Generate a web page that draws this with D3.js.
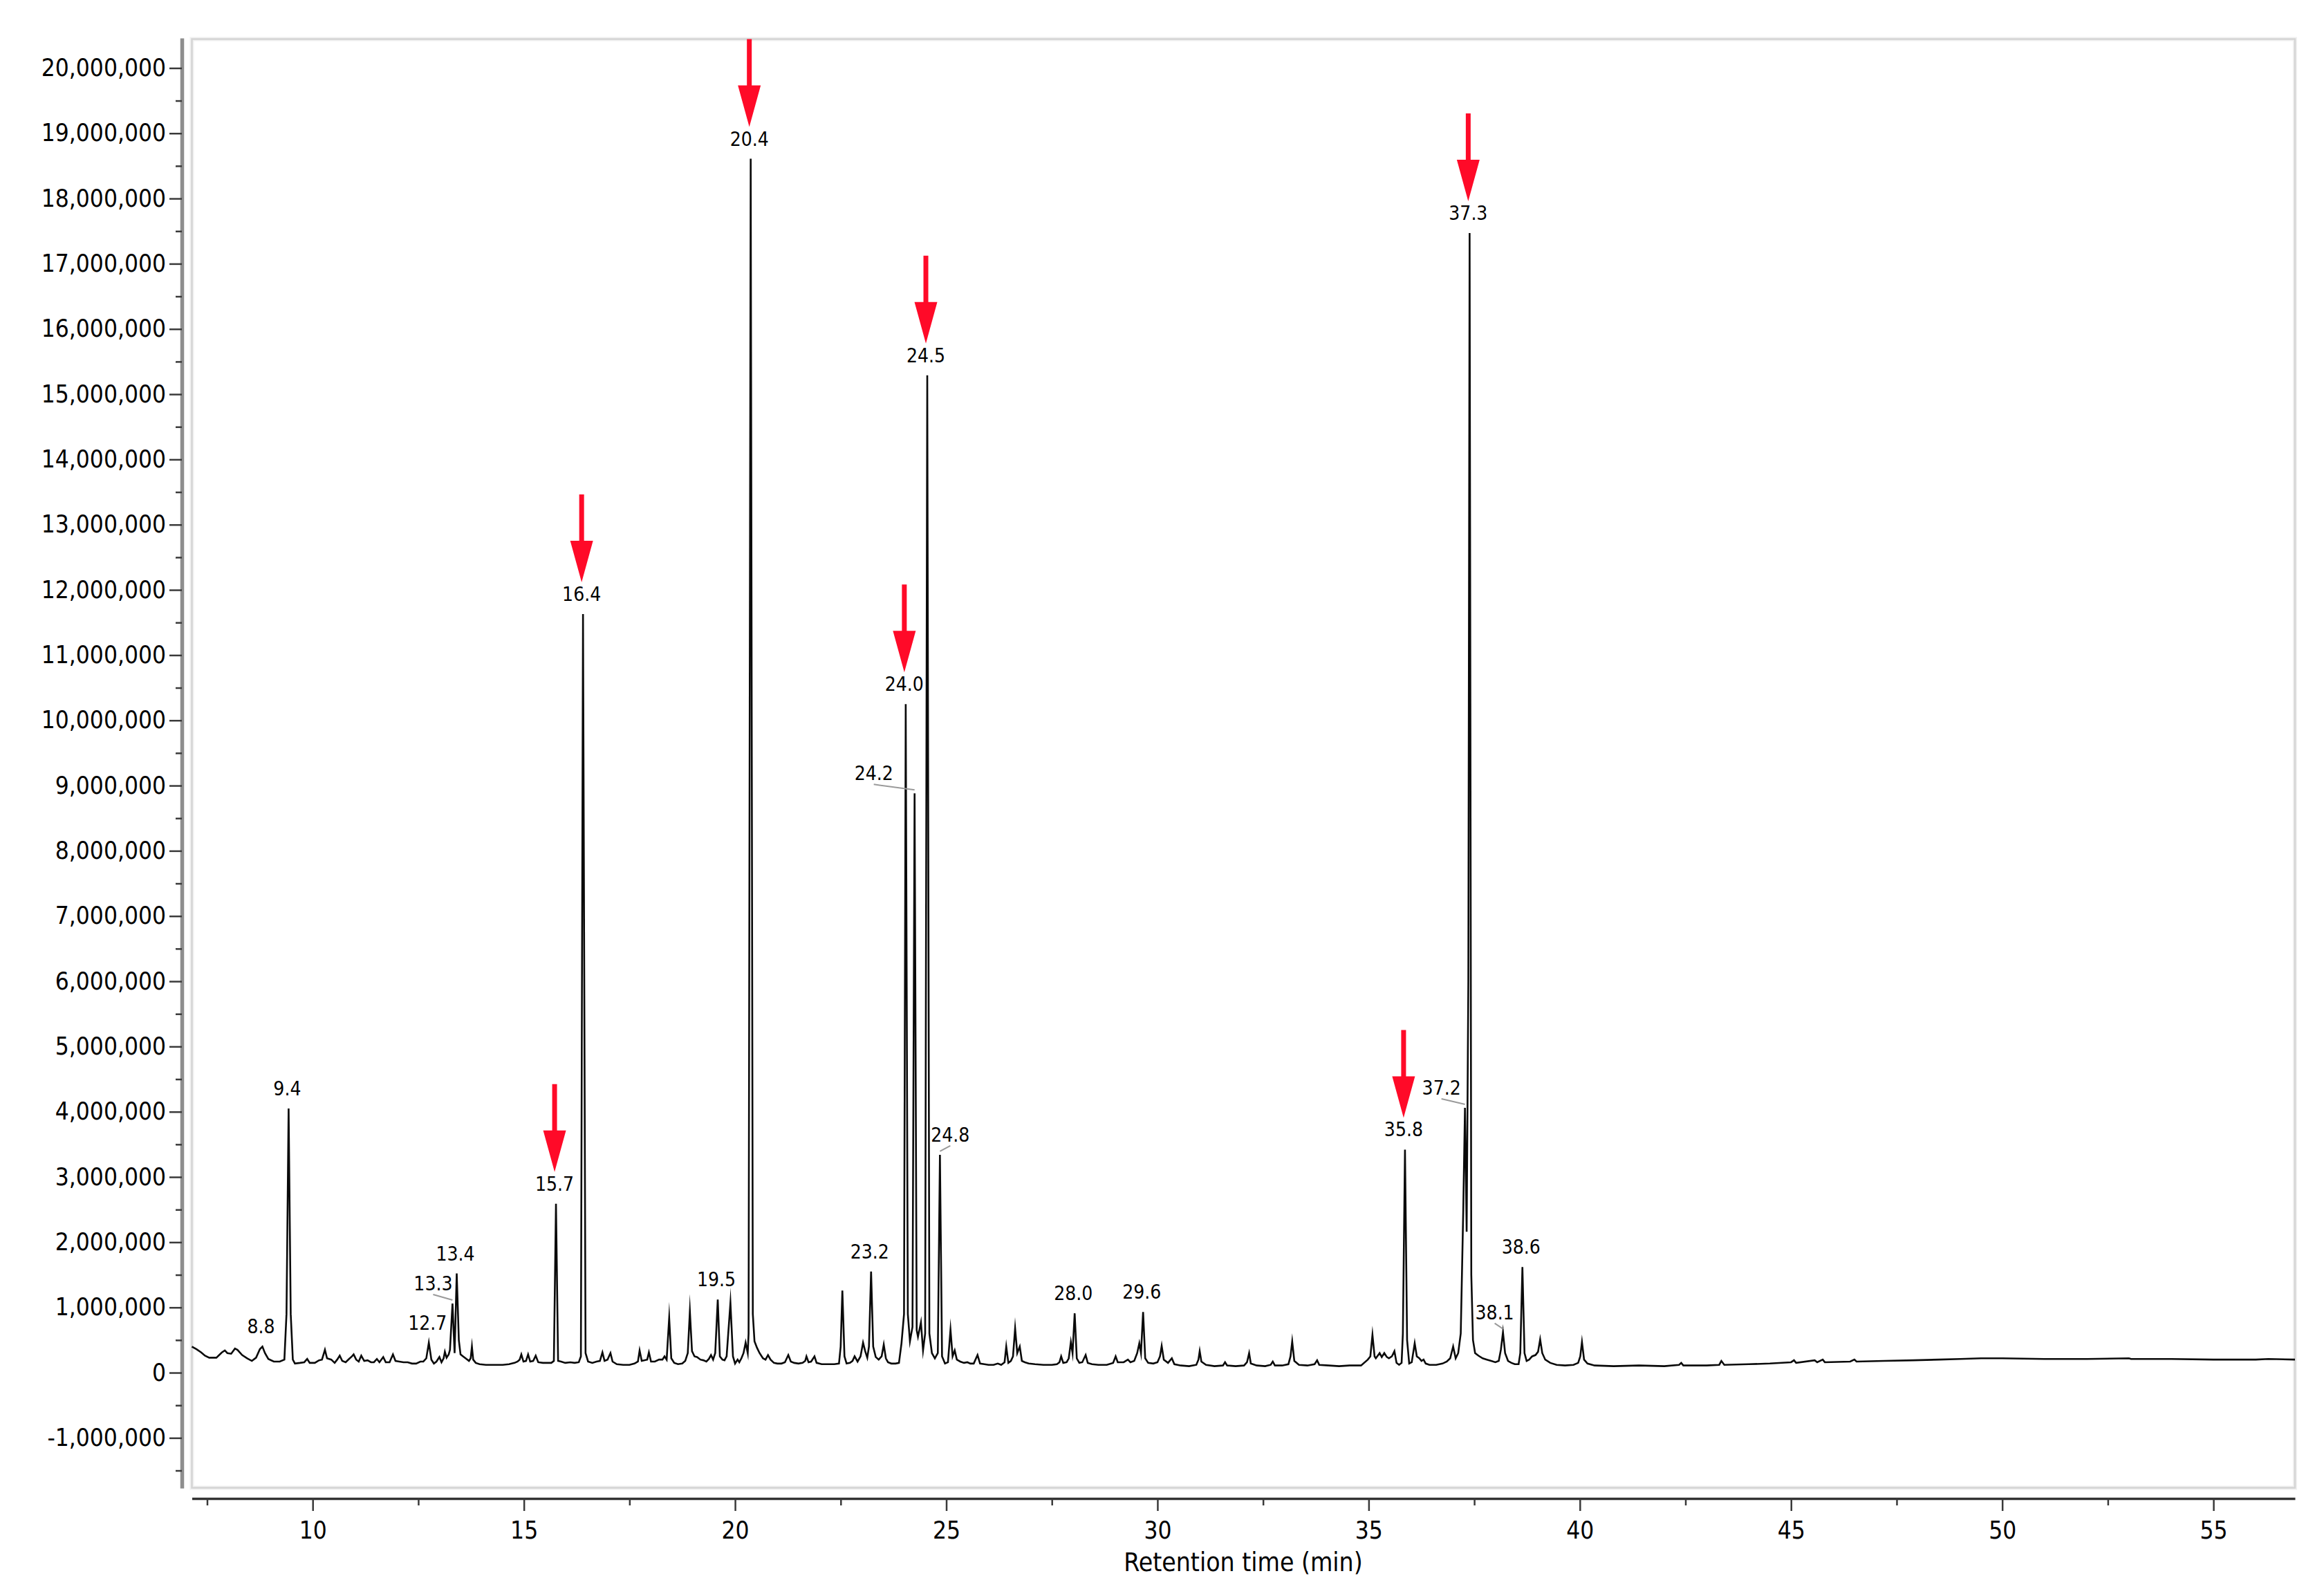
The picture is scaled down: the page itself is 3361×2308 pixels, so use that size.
<!DOCTYPE html>
<html><head><meta charset="utf-8">
<script src="https://cdn.jsdelivr.net/npm/d3@7/dist/d3.min.js"></script>
<style>html,body{margin:0;padding:0;background:#fff}svg{display:block}</style>
</head><body>
<svg id="chart" width="3361" height="2308"></svg>
<script>
// ---------- DATA (intensity in millions of counts, time in minutes) ----------
const chromatogram = [
[7.14,0.40],[7.25,0.36],[7.36,0.31],[7.45,0.26],[7.55,0.23],[7.72,0.23],[7.85,0.31],[7.92,0.34],[7.98,0.30],[8.07,0.29],
[8.16,0.37],[8.22,0.35],[8.33,0.27],[8.45,0.22],[8.56,0.18],[8.66,0.23],[8.75,0.36],[8.81,0.40],[8.87,0.30],[8.95,0.21],
[9.08,0.17],[9.22,0.17],[9.33,0.20],[9.38,0.9],[9.43,4.05],[9.48,0.9],[9.53,0.20],[9.58,0.14],[9.70,0.15],[9.80,0.16],
[9.87,0.21],[9.93,0.15],[10.05,0.15],[10.15,0.19],[10.22,0.20],[10.29,0.35],[10.34,0.22],[10.44,0.20],[10.52,0.15],[10.58,0.20],
[10.64,0.26],[10.70,0.18],[10.78,0.16],[10.86,0.21],[10.93,0.25],[10.97,0.28],[11.03,0.20],[11.09,0.17],[11.15,0.26],[11.22,0.18],
[11.30,0.19],[11.38,0.16],[11.45,0.16],[11.52,0.21],[11.58,0.16],[11.67,0.24],[11.73,0.16],[11.82,0.16],[11.90,0.28],[11.96,0.18],
[12.05,0.17],[12.15,0.16],[12.25,0.16],[12.35,0.14],[12.45,0.14],[12.55,0.17],[12.62,0.17],[12.69,0.22],[12.75,0.46],[12.81,0.20],
[12.87,0.14],[12.93,0.17],[13.00,0.24],[13.05,0.16],[13.10,0.22],[13.13,0.32],[13.17,0.23],[13.22,0.28],[13.25,0.35],[13.31,1.06],
[13.36,0.30],[13.41,1.52],[13.46,0.50],[13.50,0.28],[13.56,0.25],[13.62,0.22],[13.70,0.18],[13.74,0.22],[13.77,0.40],[13.80,0.20],
[13.86,0.15],[13.95,0.13],[14.10,0.12],[14.30,0.12],[14.50,0.12],[14.65,0.13],[14.78,0.15],[14.85,0.17],[14.90,0.20],[14.94,0.28],
[14.99,0.17],[15.05,0.18],[15.10,0.28],[15.15,0.17],[15.22,0.18],[15.28,0.26],[15.34,0.16],[15.45,0.15],[15.55,0.15],[15.65,0.15],
[15.71,0.18],[15.76,2.59],[15.81,0.18],[15.88,0.17],[15.98,0.15],[16.10,0.16],[16.20,0.15],[16.30,0.16],[16.35,0.25],[16.40,11.63],
[16.46,0.30],[16.52,0.17],[16.62,0.15],[16.72,0.17],[16.80,0.18],[16.86,0.31],[16.91,0.18],[16.98,0.20],[17.05,0.30],[17.10,0.17],
[17.20,0.13],[17.35,0.12],[17.50,0.12],[17.62,0.14],[17.70,0.17],[17.74,0.34],[17.79,0.18],[17.86,0.19],[17.92,0.20],[17.96,0.31],
[18.01,0.17],[18.10,0.17],[18.20,0.20],[18.28,0.20],[18.33,0.25],[18.38,0.20],[18.44,0.84],[18.49,0.22],[18.56,0.15],[18.65,0.13],
[18.75,0.14],[18.82,0.18],[18.88,0.30],[18.93,0.94],[18.98,0.33],[19.04,0.25],[19.10,0.24],[19.18,0.20],[19.25,0.19],[19.32,0.17],
[19.38,0.21],[19.43,0.27],[19.48,0.20],[19.53,0.30],[19.59,1.12],[19.64,0.25],[19.70,0.20],[19.75,0.19],[19.80,0.25],[19.89,1.07],
[19.95,0.25],[20.00,0.14],[20.06,0.20],[20.10,0.16],[20.15,0.22],[20.20,0.30],[20.25,0.46],[20.30,0.30],[20.32,0.6],[20.37,18.61],
[20.42,0.9],[20.46,0.48],[20.52,0.38],[20.58,0.30],[20.66,0.22],[20.72,0.20],[20.78,0.27],[20.84,0.20],[20.92,0.15],[21.00,0.14],
[21.10,0.14],[21.18,0.16],[21.26,0.27],[21.32,0.17],[21.40,0.15],[21.50,0.14],[21.60,0.15],[21.66,0.18],[21.69,0.25],[21.74,0.16],
[21.80,0.17],[21.88,0.25],[21.93,0.15],[22.05,0.13],[22.20,0.13],[22.35,0.13],[22.46,0.14],[22.50,0.40],[22.54,1.26],[22.59,0.25],
[22.64,0.14],[22.72,0.15],[22.78,0.18],[22.83,0.25],[22.90,0.17],[22.97,0.25],[23.03,0.46],[23.08,0.33],[23.13,0.23],[23.17,0.40],
[23.22,1.55],[23.27,0.40],[23.33,0.24],[23.40,0.20],[23.47,0.25],[23.52,0.43],[23.57,0.22],[23.62,0.16],[23.70,0.14],[23.80,0.14],
[23.88,0.15],[23.94,0.45],[24.00,0.9],[24.04,10.25],[24.09,0.9],[24.14,0.48],[24.20,0.7],[24.25,8.88],[24.30,0.65],[24.33,0.55],
[24.40,0.77],[24.45,0.34],[24.50,0.6],[24.55,15.29],[24.60,0.6],[24.66,0.30],[24.73,0.22],[24.80,0.3],[24.85,3.34],[24.90,0.25],
[24.97,0.14],[25.04,0.16],[25.10,0.66],[25.15,0.25],[25.20,0.34],[25.25,0.20],[25.33,0.17],[25.42,0.15],[25.50,0.16],[25.57,0.14],
[25.65,0.14],[25.74,0.27],[25.80,0.14],[25.90,0.13],[26.00,0.12],[26.12,0.12],[26.22,0.14],[26.30,0.12],[26.38,0.16],[26.42,0.40],
[26.47,0.15],[26.53,0.18],[26.58,0.25],[26.63,0.68],[26.68,0.30],[26.74,0.40],[26.79,0.18],[26.86,0.16],[26.95,0.14],[27.10,0.13],
[27.30,0.12],[27.50,0.12],[27.62,0.13],[27.68,0.16],[27.72,0.25],[27.77,0.15],[27.85,0.16],[27.90,0.22],[27.95,0.47],[27.99,0.30],
[28.04,0.91],[28.09,0.22],[28.15,0.15],[28.22,0.16],[28.30,0.27],[28.35,0.15],[28.45,0.13],[28.60,0.12],[28.80,0.12],[28.95,0.15],
[29.01,0.25],[29.06,0.16],[29.20,0.16],[29.30,0.20],[29.36,0.16],[29.45,0.18],[29.52,0.30],[29.57,0.45],[29.61,0.30],[29.66,0.93],
[29.71,0.22],[29.78,0.15],[29.90,0.14],[30.00,0.16],[30.06,0.25],[30.10,0.41],[30.15,0.20],[30.25,0.15],[30.34,0.22],[30.40,0.13],
[30.55,0.11],[30.75,0.10],[30.92,0.12],[30.97,0.20],[31.00,0.33],[31.04,0.17],[31.15,0.12],[31.35,0.10],[31.55,0.11],[31.60,0.16],
[31.65,0.11],[31.85,0.10],[32.05,0.11],[32.12,0.16],[32.17,0.30],[32.21,0.14],[32.35,0.11],[32.55,0.10],[32.68,0.12],[32.73,0.17],
[32.78,0.11],[32.95,0.11],[33.10,0.13],[33.15,0.25],[33.19,0.48],[33.24,0.18],[33.35,0.12],[33.55,0.11],[33.72,0.13],[33.78,0.19],
[33.83,0.12],[34.05,0.11],[34.30,0.10],[34.55,0.11],[34.82,0.11],[34.98,0.20],[35.04,0.25],[35.09,0.58],[35.14,0.25],[35.17,0.22],
[35.26,0.30],[35.31,0.24],[35.37,0.30],[35.43,0.24],[35.48,0.22],[35.55,0.25],[35.61,0.33],[35.66,0.15],[35.72,0.12],[35.78,0.15],
[35.81,0.6],[35.86,3.42],[35.91,0.5],[35.96,0.14],[36.02,0.16],[36.09,0.45],[36.14,0.25],[36.20,0.22],[36.25,0.18],[36.30,0.20],
[36.35,0.14],[36.44,0.12],[36.60,0.12],[36.75,0.14],[36.85,0.17],[36.93,0.22],[37.00,0.40],[37.06,0.22],[37.12,0.30],[37.18,0.6],
[37.24,2.5],[37.28,4.06],[37.32,2.16],[37.36,6.0],[37.39,17.47],[37.43,1.5],[37.47,0.50],[37.52,0.30],[37.60,0.26],[37.70,0.22],
[37.80,0.20],[37.90,0.18],[38.00,0.16],[38.08,0.18],[38.13,0.35],[38.18,0.62],[38.23,0.30],[38.30,0.18],[38.38,0.15],[38.46,0.13],
[38.55,0.13],[38.59,0.3],[38.64,1.62],[38.69,0.3],[38.74,0.18],[38.80,0.20],[38.87,0.25],[38.95,0.27],[39.01,0.32],[39.06,0.51],
[39.11,0.30],[39.18,0.20],[39.30,0.15],[39.45,0.12],[39.65,0.11],[39.85,0.12],[39.96,0.15],[40.01,0.25],[40.05,0.47],[40.10,0.20],
[40.18,0.14],[40.35,0.11],[40.80,0.10],[41.40,0.11],[42.00,0.10],[42.35,0.12],[42.40,0.15],[42.45,0.11],[43.00,0.11],[43.30,0.12],
[43.35,0.18],[43.42,0.12],[44.00,0.13],[44.50,0.14],[45.00,0.16],[45.07,0.19],[45.12,0.15],[45.56,0.19],[45.62,0.16],[45.75,0.20],
[45.80,0.16],[46.40,0.17],[46.50,0.20],[46.55,0.17],[47.20,0.18],[47.90,0.19],[48.50,0.20],[49.00,0.21],[49.50,0.22],[50.00,0.22],
[51.00,0.21],[52.00,0.21],[53.00,0.22],[53.05,0.21],[54.00,0.21],[55.00,0.20],[56.00,0.20],[56.30,0.21],[56.93,0.20]
];

const peakLabels  = ["8.8","9.4","12.7","13.3","13.4","15.7","16.4","19.5","20.4","23.2","24.0","24.2","24.5","24.8","28.0","29.6","35.8","37.2","37.3","38.1","38.6"];
const peakTimes   = [8.81,9.43,12.75,13.31,13.41,15.76,16.40,19.59,20.37,23.22,24.04,24.25,24.55,24.85,28.04,29.66,35.86,37.28,37.39,38.18,38.64];
const peakHeights = [0.40,4.05,0.46,1.06,1.52,2.59,11.63,1.12,18.61,1.55,10.25,8.88,15.29,3.34,0.91,0.93,3.42,4.06,17.47,0.62,1.62];
const arrowedPeaks = ["15.7","16.4","20.4","24.0","24.5","35.8","37.3"];

const xMajorTicks = [10,15,20,25,30,35,40,45,50,55];
const xMinorTicks = [7.5,12.5,17.5,22.5,27.5,32.5,37.5,42.5,47.5,52.5];
const yMajorTicks = [-1,0,1,2,3,4,5,6,7,8,9,10,11,12,13,14,15,16,17,18,19,20];
const yMinorTicks = [-1.5,-0.5,0.5,1.5,2.5,3.5,4.5,5.5,6.5,7.5,8.5,9.5,10.5,11.5,12.5,13.5,14.5,15.5,16.5,17.5,18.5,19.5];
const xTitle = "Retention time (min)";

// ---------- LAYOUT ----------
const FONT = "'DejaVu Sans Condensed','DejaVu Sans',sans-serif";
const leaderShift = {"13.3":-28,"24.2":-59,"24.8":15,"37.2":-34,"38.1":-12};

const svg = d3.select("#chart");
svg.append("rect").attr("width",3361).attr("height",2308).attr("fill","#fff");

const x = d3.scaleLinear().domain([7.14,56.93]).range([277.5,3319]);
const y = d3.scaleLinear().domain([-1.77,20.46]).range([2152,55]);

// plot frame
svg.append("rect").attr("x",277.5).attr("y",56.5).attr("width",3041.5).attr("height",2095)
  .attr("fill","none").attr("stroke","#f0f0f0").attr("stroke-width",6);
svg.append("rect").attr("x",277.5).attr("y",56.5).attr("width",3041.5).attr("height",2095)
  .attr("fill","none").attr("stroke","#d4d4d4").attr("stroke-width",2.5);

// y axis
const fmt = d3.format(",");
const yLabel = d => fmt(Math.round(d*1e6)).replace("\u2212","-");
const yAxis = svg.append("g").attr("transform","translate(263,0)")
  .call(d3.axisLeft(y).tickValues(yMajorTicks).tickSize(18).tickSizeOuter(0).tickPadding(5).tickFormat(yLabel));
yAxis.select(".domain").attr("stroke","#8e8e8e").attr("stroke-width",5.5);
yAxis.selectAll(".tick line").attr("stroke","#3a3a3a").attr("stroke-width",2.5);
yAxis.selectAll(".tick text").attr("font-family",FONT).attr("font-size",35).attr("fill","#000")
  .attr("font-stretch","condensed");
const yMinor = svg.append("g").attr("transform","translate(263,0)")
  .call(d3.axisLeft(y).tickValues(yMinorTicks).tickSize(9).tickSizeOuter(0).tickFormat(""));
yMinor.select(".domain").remove();
yMinor.selectAll(".tick line").attr("stroke","#3a3a3a").attr("stroke-width",2.5);

// x axis
const xAxis = svg.append("g").attr("transform","translate(0,2167)")
  .call(d3.axisBottom(x).tickValues(xMajorTicks).tickSize(18).tickSizeOuter(0).tickFormat(d3.format("d")));
xAxis.select(".domain").attr("stroke","#333").attr("stroke-width",3.5);
xAxis.selectAll(".tick line").attr("stroke","#3a3a3a").attr("stroke-width",2.5);
xAxis.selectAll(".tick text").attr("font-family",FONT).attr("font-size",35).attr("fill","#000")
  .attr("font-stretch","condensed").attr("y",58).attr("dy",0);
const xMinor = svg.append("g").attr("transform","translate(0,2167)")
  .call(d3.axisBottom(x).tickValues(xMinorTicks).tickSize(10).tickSizeOuter(0).tickFormat(""));
xMinor.select(".domain").remove();
xMinor.selectAll(".tick line").attr("stroke","#3a3a3a").attr("stroke-width",2.5);

svg.append("text").attr("x",1798).attr("y",2272).attr("text-anchor","middle")
  .attr("font-family",FONT).attr("font-stretch","condensed").attr("font-size",37).attr("fill","#000").text(xTitle);

// trace
const line = d3.line().x(d => x(d[0])).y(d => y(d[1]));
svg.append("path").datum(chromatogram).attr("d",line)
  .attr("fill","none").attr("stroke","#0a0a0a").attr("stroke-width",2.6).attr("stroke-linejoin","miter").attr("stroke-miterlimit",20);

// peak labels
const peaks = peakLabels.map((l,i) => ({label:l, t:peakTimes[i], v:peakHeights[i]}));
peaks.forEach(p => {
  const px = x(p.t), py = y(p.v);
  const lx = px + (leaderShift[p.label] !== undefined ? leaderShift[p.label] : -2);
  const ly = py - 29;
  if (leaderShift[p.label] !== undefined) {
    svg.append("line").attr("x1",lx).attr("y1",ly+16).attr("x2",px).attr("y2",py-5)
      .attr("stroke","#9a9a9a").attr("stroke-width",2);
  }
  svg.append("text").attr("x",lx).attr("y",ly+10).attr("text-anchor","middle")
    .attr("font-family",FONT).attr("font-stretch","condensed").attr("font-size",28).attr("fill","#000").text(p.label);
  if (arrowedPeaks.includes(p.label)) {
    const tip = ly - 17, headTop = tip - 60, top = tip - 127;
    const hw = 16.5, sw = 3.5;
    svg.append("path").attr("d",
      `M${lx-sw},${top} L${lx+sw},${top} L${lx+sw},${headTop} L${lx+hw},${headTop} L${lx},${tip} L${lx-hw},${headTop} L${lx-sw},${headTop} Z`)
      .attr("fill","#ff0a28");
  }
});
</script>
</body></html>
